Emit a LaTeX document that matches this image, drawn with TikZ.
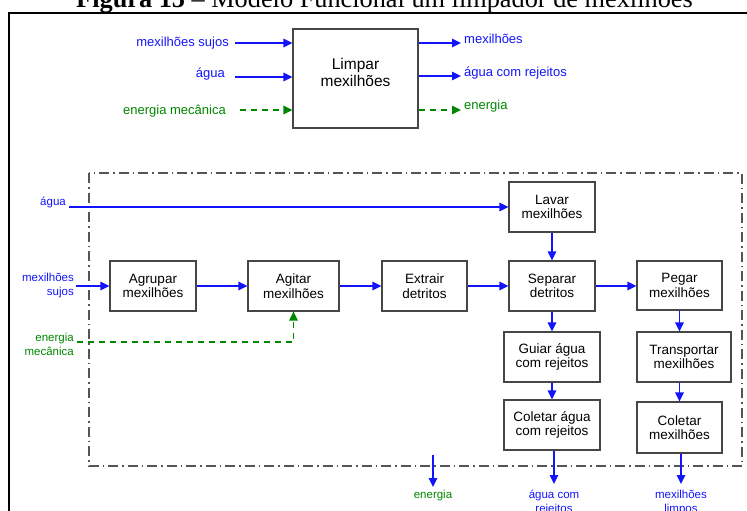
\documentclass[tikz,border=0pt]{standalone}
\usepackage{fontspec}
\setmainfont{Liberation Sans}
\newfontfamily\titlefont{Liberation Serif}
\usetikzlibrary{arrows.meta}
\definecolor{myblue}{RGB}{20,20,250}
\definecolor{mygreen}{RGB}{0,135,0}
\definecolor{boxgray}{RGB}{70,70,70}
\definecolor{framegray}{RGB}{85,85,85}
\tikzset{
  box/.style={draw=boxgray, line width=1.2pt, fill=white, align=center, inner sep=0pt,
    font=\fontsize{13.5}{14.5}\selectfont},
  bluearrow/.style={draw=myblue, line width=1.5pt, -{Triangle[length=9pt,width=8.5pt]}},
  bluelinestyle/.style={draw=myblue, line width=1.5pt},
  greenarrow/.style={draw=mygreen, line width=1.5pt, dash pattern=on 6pt off 5pt,
    -{Triangle[length=9pt,width=8.5pt]}},
  toplabel/.style={font=\fontsize{13}{14}\selectfont, inner sep=0pt},
  smalllabel/.style={font=\fontsize{11.5}{14}\selectfont, inner sep=0pt},
  systemframe/.style={draw=framegray, line width=1.3pt, dash pattern=on 10pt off 4pt on 1.5pt off 4pt},
}
\begin{document}
\begin{tikzpicture}[x=1pt,y=-1pt]
\useasboundingbox (0,0) rectangle (747,511);
% title (cut at top)
\node[anchor=base, inner sep=0pt, font=\titlefont\fontsize{26.3}{28}\selectfont] (title) at (384.5,7.5)
  {\textbf{Figura 15} – Modelo Funcional um limpador de mexilhões};
% outer frame
\draw[line width=2pt, black] (9,13) rectangle (770,540);

% ---------- top black box ----------
\node[box, minimum width=125pt, minimum height=99pt] (lim) at (355.5,78.5) {};
\node[inner sep=0pt, align=center, font=\fontsize{15.5}{17}\selectfont] (limtxt) at (355.5,72) {Limpar\\mexilhões};

\node[toplabel, text=myblue, anchor=east] (tms) at (229,43) {mexilhões sujos};
\node[toplabel, text=myblue, anchor=east] (tag) at (225,74) {água};
\node[toplabel, text=mygreen, anchor=east] (tem) at (226,111) {energia mecânica};
\coordinate (a1) at (235,43);
\coordinate (a2) at (235,77);
\coordinate (a3) at (240,110);
\draw[bluearrow] (a1) -- (a1 -| lim.west);
\draw[bluearrow] (a2) -- (a2 -| lim.west);
\draw[greenarrow] (a3) -- (a3 -| lim.west);

\coordinate (r1) at (461,43);
\coordinate (r2) at (461,76);
\coordinate (r3) at (461,110);
\draw[bluearrow] (r1 -| lim.east) -- (r1);
\draw[bluearrow] (r2 -| lim.east) -- (r2);
\draw[greenarrow] (r3 -| lim.east) -- (r3);
\node[toplabel, text=myblue, anchor=west] (tmx) at (464,39) {mexilhões};
\node[toplabel, text=myblue, anchor=west] (tar) at (464,73) {água com rejeitos};
\node[toplabel, text=mygreen, anchor=west] (ten) at (464,106) {energia};

% ---------- system boundary ----------
\draw[systemframe] (89,173) rectangle (742,466);

% ---------- function boxes ----------
\node[box, minimum width=86pt, minimum height=50pt] (lav) at (552,207) {Lavar\\mexilhões};
\node[box, minimum width=86pt, minimum height=50pt] (agr) at (153,286) {Agrupar\\mexilhões};
\node[box, minimum width=91pt, minimum height=50pt] (agi) at (293.5,286) {Agitar\\mexilhões};
\node[box, minimum width=85pt, minimum height=50pt] (ext) at (424.5,286) {Extrair\\detritos};
\node[box, minimum width=86pt, minimum height=50pt] (sep) at (552,286) {Separar\\detritos};
\node[box, minimum width=85pt, minimum height=49pt] (peg) at (679.5,285.5) {Pegar\\mexilhões};
\node[box, minimum width=96pt, minimum height=50pt] (gui) at (552,357) {Guiar água\\com rejeitos};
\node[box, minimum width=94pt, minimum height=50pt] (tra) at (684,357) {Transportar\\mexilhões};
\node[box, minimum width=96pt, minimum height=50pt] (cola) at (552,425) {Coletar água\\com rejeitos};
\node[box, minimum width=85pt, minimum height=51pt] (colm) at (679.5,427.5) {Coletar\\mexilhões};

% ---------- inputs ----------
\node[smalllabel, text=myblue, anchor=east] (iag) at (66,202) {água};
\coordinate (iagstart) at (69,207);
\draw[bluearrow] (iagstart) -- (lav.west);

\node[smalllabel, text=myblue, anchor=east, align=right] (ims) at (74,286) {mexilhões\\sujos};
\coordinate (imsstart) at (76,286);
\draw[bluearrow] (imsstart) -- (agr.west);

\node[smalllabel, text=mygreen, anchor=east, align=right] (iem) at (74,344) {energia\\mecânica};
\coordinate (iemstart) at (77,342);
\draw[greenarrow] (iemstart) -| (agi.south);

% ---------- internal flows ----------
\draw[bluearrow] (agr) -- (agi);
\draw[bluearrow] (agi) -- (ext);
\draw[bluearrow] (ext) -- (sep);
\draw[bluearrow] (sep) -- (sep -| peg.west);
\draw[bluearrow] (lav) -- (sep);
\draw[bluearrow] (sep) -- (gui);
\draw[bluearrow] (gui) -- (cola);
\draw[bluearrow] (peg.south) -- (peg.south |- tra.north);
\draw[bluearrow] (colm.north |- tra.south) -- (colm.north);

% ---------- outputs ----------
\coordinate (en1) at (433,455);
\coordinate (en2) at (433,487);
\draw[bluearrow] (en1) -- (en2);
\node[smalllabel, text=mygreen] (oen) at (433,496) {energia};

\coordinate (oa) at (554,484);
\draw[bluearrow] (cola.south -| oa) -- (oa);
\node[smalllabel, text=myblue, align=center, anchor=north] (oar) at (554,490) {água com\\rejeitos};

\coordinate (om) at (681,484);
\draw[bluearrow] (colm.south -| om) -- (om);
\node[smalllabel, text=myblue, align=center, anchor=north] (oml) at (681,490) {mexilhões\\limpos};
\end{tikzpicture}
\end{document}
